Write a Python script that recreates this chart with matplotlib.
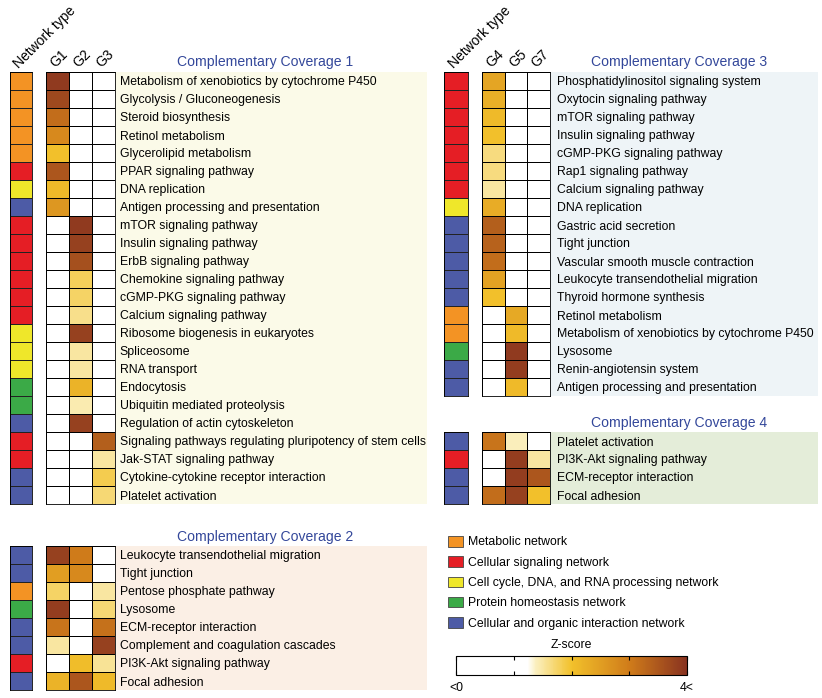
import numpy as np
import matplotlib
matplotlib.use("Agg")
import matplotlib.pyplot as plt
from matplotlib.colors import LinearSegmentedColormap, ListedColormap, Normalize
from matplotlib.patches import Patch
from matplotlib.cm import ScalarMappable

plt.rcParams['font.family'] = ['Liberation Sans', 'DejaVu Sans']

# network categories
net_names = ["Metabolic network", "Cellular signaling network",
             "Cell cycle, DNA, and RNA processing network",
             "Protein homeostasis network", "Cellular and organic interaction network"]
net_colors = ["#F39324", "#E51E25", "#EFE72A", "#3BAA47", "#4D5BA6"]

# Complementary Coverage 1
cc1_groups = ["G1", "G2", "G3"]
cc1_paths = ["Metabolism of xenobiotics by cytochrome P450", "Glycolysis / Gluconeogenesis",
             "Steroid biosynthesis", "Retinol metabolism", "Glycerolipid metabolism",
             "PPAR signaling pathway", "DNA replication", "Antigen processing and presentation",
             "mTOR signaling pathway", "Insulin signaling pathway", "ErbB signaling pathway",
             "Chemokine signaling pathway", "cGMP-PKG signaling pathway", "Calcium signaling pathway",
             "Ribosome biogenesis in eukaryotes", "Spliceosome", "RNA transport", "Endocytosis",
             "Ubiquitin mediated proteolysis", "Regulation of actin cytoskeleton",
             "Signaling pathways regulating pluripotency of stem cells", "Jak-STAT signaling pathway",
             "Cytokine-cytokine receptor interaction", "Platelet activation"]
cc1_net = [0, 0, 0, 0, 0, 1, 2, 4, 1, 1, 1, 1, 1, 1, 2, 2, 2, 3, 3, 4, 1, 1, 4, 4]
cc1_z = [[3.9, 0, 0], [3.7, 0, 0], [3.2, 0, 0], [2.8, 0, 0], [2.0, 0, 0], [3.5, 0, 0],
         [2.1, 0, 0], [2.6, 0, 0], [0, 3.9, 0], [0, 3.8, 0], [0, 3.6, 0], [0, 1.8, 0],
         [0, 1.75, 0], [0, 1.6, 0], [0, 3.8, 0], [0, 1.5, 0], [0, 1.5, 0], [0, 2.2, 0],
         [0, 1.45, 0], [0, 3.8, 0], [0, 0, 3.4], [0, 0, 1.5], [0, 0, 1.85], [0, 0, 1.7]]

# Complementary Coverage 2
cc2_paths = ["Leukocyte transendothelial migration", "Tight junction", "Pentose phosphate pathway",
             "Lysosome", "ECM-receptor interaction", "Complement and coagulation cascades",
             "PI3K-Akt signaling pathway", "Focal adhesion"]
cc2_net = [4, 4, 0, 3, 4, 4, 1, 4]
cc2_z = [[3.8, 3.0, 0], [2.5, 2.8, 0], [1.75, 0, 1.5], [3.85, 0, 1.7], [3.1, 0, 3.15],
         [1.5, 0, 3.8], [0, 2.05, 1.55], [2.2, 3.5, 2.1]]

# Complementary Coverage 3
cc3_groups = ["G4", "G5", "G7"]
cc3_paths = ["Phosphatidylinositol signaling system", "Oxytocin signaling pathway",
             "mTOR signaling pathway", "Insulin signaling pathway", "cGMP-PKG signaling pathway",
             "Rap1 signaling pathway", "Calcium signaling pathway", "DNA replication",
             "Gastric acid secretion", "Tight junction", "Vascular smooth muscle contraction",
             "Leukocyte transendothelial migration", "Thyroid hormone synthesis", "Retinol metabolism",
             "Metabolism of xenobiotics by cytochrome P450", "Lysosome", "Renin-angiotensin system",
             "Antigen processing and presentation"]
cc3_net = [1, 1, 1, 1, 1, 1, 1, 2, 4, 4, 4, 4, 4, 0, 0, 3, 4, 4]
cc3_z = [[2.4, 0, 0], [2.25, 0, 0], [2.1, 0, 0], [2.0, 0, 0], [1.65, 0, 0], [1.65, 0, 0],
         [1.5, 0, 0], [2.3, 0, 0], [3.4, 0, 0], [3.35, 0, 0], [3.2, 0, 0], [2.45, 0, 0],
         [2.0, 0, 0], [0, 2.35, 0], [0, 2.1, 0], [0, 3.9, 0], [0, 3.85, 0], [0, 2.1, 0]]

# Complementary Coverage 4
cc4_paths = ["Platelet activation", "PI3K-Akt signaling pathway", "ECM-receptor interaction",
             "Focal adhesion"]
cc4_net = [4, 1, 4, 4]
cc4_z = [[3.1, 1.4, 0], [0, 3.85, 1.5], [0, 3.85, 3.5], [3.2, 3.8, 2.0]]

zcmap = LinearSegmentedColormap.from_list(
    "z", [(0, "white"), (0.31, "white"), (0.34, "#FBF1C4"), (0.5, "#F2C12B"),
          (0.75, "#D07C1A"), (1, "#893320")])
netcmap = ListedColormap(net_colors)

W, H = 822, 698
fig = plt.figure(figsize=(W / 100, H / 100), dpi=100)


def fax(x0, y0, x1, y1):
    return fig.add_axes([x0 / W, 1 - y1 / H, (x1 - x0) / W, (y1 - y0) / H])


def clean(ax, lw=0.6):
    ax.set_xticks([])
    ax.set_yticks([])
    for s in ax.spines.values():
        s.set_linewidth(lw)


def panel(title, groups, paths, net, z, xnet, xheat, xbg, y0, bg, tpos, header, pad):
    n = len(paths)
    y1 = y0 + n * 18
    bgax = fax(xbg[0], y0, xbg[1], y1)
    bgax.set_facecolor(bg)
    clean(bgax)
    for s in bgax.spines.values():
        s.set_visible(False)

    nax = fax(xnet[0], y0, xnet[1], y1)
    nax.pcolormesh(np.array(net).reshape(-1, 1), cmap=netcmap, vmin=-0.5, vmax=4.5,
                   edgecolors="#222222", linewidth=0.5)
    nax.set_ylim(n, 0)
    clean(nax)

    hax = fax(xheat[0], y0, xheat[1], y1)
    hax.pcolormesh(np.array(z), cmap=zcmap, vmin=0, vmax=4, edgecolors="black", linewidth=0.6)
    hax.set_ylim(n, 0)
    for s in hax.spines.values():
        s.set_linewidth(0.6)
    hax.yaxis.tick_right()
    hax.set_yticks(np.arange(n) + 0.5)
    hax.set_yticklabels(paths, fontsize=8.8)
    hax.tick_params(axis="y", length=0, pad=pad)
    if header:
        hax.xaxis.tick_top()
        hax.set_xticks(np.arange(len(groups)) + 0.5)
        hax.set_xticklabels(groups, rotation=45, ha="left", va="bottom",
                            rotation_mode="anchor", fontsize=10)
        hax.tick_params(axis="x", length=0, pad=1)
        nax.xaxis.tick_top()
        nax.set_xticks([0.5])
        nax.set_xticklabels(["Network type"], rotation=45, ha="left", va="bottom",
                            rotation_mode="anchor", fontsize=10)
        nax.tick_params(axis="x", length=0, pad=1)
    else:
        hax.set_xticks([])
    fig.text(tpos[0] / W, 1 - tpos[1] / H, title, ha="center", va="center",
             fontsize=10.1, color="#33479A")


panel("Complementary Coverage 1", cc1_groups, cc1_paths, cc1_net, cc1_z,
      (10, 32), (46, 115), (116, 427), 72, "#FBFAE8", (265, 62), True, 3.5)
panel("Complementary Coverage 2", cc1_groups, cc2_paths, cc2_net, cc2_z,
      (10, 32), (46, 115), (116, 427), 546, "#FBEFE5", (265, 537), False, 3.5)
panel("Complementary Coverage 3", cc3_groups, cc3_paths, cc3_net, cc3_z,
      (444, 468), (482, 550), (550, 818), 72, "#EEF4F7", (679, 62), True, 5)
panel("Complementary Coverage 4", cc3_groups, cc4_paths, cc4_net, cc4_z,
      (444, 468), (482, 550), (550, 818), 432, "#E4EDD9", (679, 423), False, 5)

# legend
handles = [Patch(facecolor=c, edgecolor="#444444", linewidth=0.6) for c in net_colors]
fig.legend(handles, net_names, loc="upper left", bbox_to_anchor=(448 / W, 1 - 536 / H),
           frameon=False, fontsize=8.8, handlelength=1.25, handleheight=0.95,
           handletextpad=0.35, labelspacing=0.64, borderaxespad=0, borderpad=0)

# colorbar
cax = fax(456, 656, 687, 675)
cb = fig.colorbar(ScalarMappable(Normalize(0, 4), zcmap), cax=cax, orientation="horizontal")
cb.set_ticks([0, 1, 2, 3, 4])
cb.set_ticklabels(["<0", "", "", "", "4<"])
cax.tick_params(direction="in", length=3, width=0.8, top=True, bottom=True, labelsize=8.8, pad=5)
cb.outline.set_linewidth(0.8)
cax.set_title("Z-score", fontsize=8.8, pad=6)

fig.savefig("out.png", dpi=100)
